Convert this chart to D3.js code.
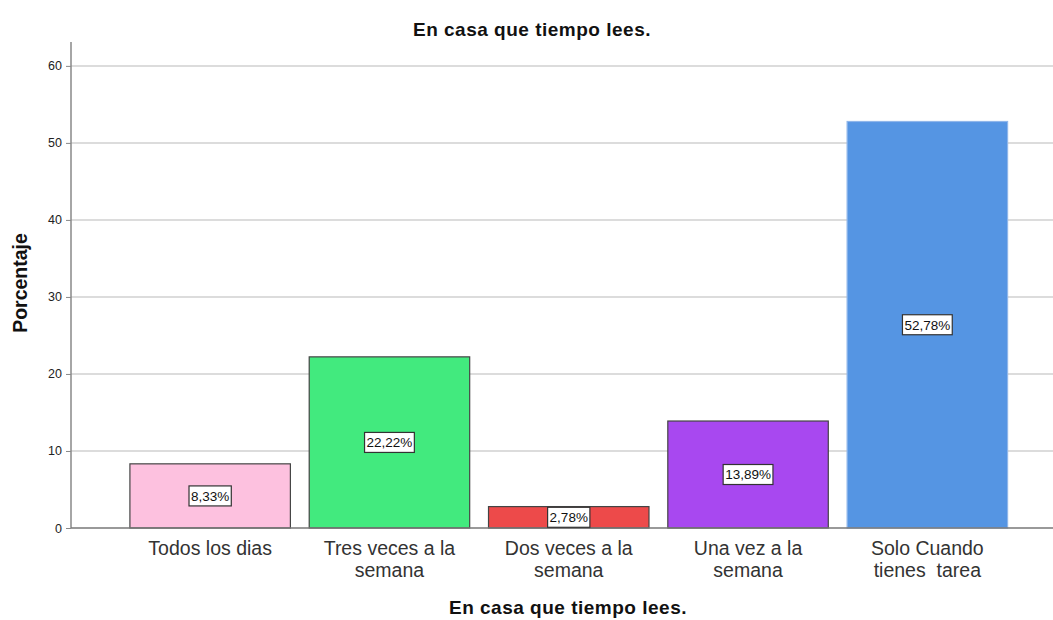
<!DOCTYPE html>
<meta charset="utf-8">
<style>
    body {
        margin: 0;
        padding: 0;
        background: #fff;
        font-family: Arial, "Liberation Sans", sans-serif;
    }
    svg {
        display: block;
    }
    .grid line {
        stroke: #d0d0d0;
        stroke-width: 1.5px;
    }
    .label-box {
        fill: #fff;
        stroke: #333;
        stroke-width: 1.2px;
    }
    .cat text {
        white-space: pre;
    }
</style>
<svg width="1053" height="620"></svg>
<script src="https://d3js.org/d3.v7.min.js"></script>
<script>
    var categories = [
        ["Todos los dias"],
        ["Tres veces a la", "semana"],
        ["Dos veces a la", "semana"],
        ["Una vez a la", "semana"],
        ["Solo Cuando", "tienes  tarea"]
    ];
    var percents = [8.33, 22.22, 2.78, 13.89, 52.78];
    var valueLabels = ["8,33%", "22,22%", "2,78%", "13,89%", "52,78%"];
    var yTicks = [0, 10, 20, 30, 40, 50, 60];
    var barColors = ["#fdc1df", "#42ea7e", "#ed4a4a", "#a848f0", "#5595e3"];
    var barStrokes = ["#444", "#444", "#444", "#444", "#8fb6ea"];

    var svg = d3.select("svg");
    var width = 1053;

    var x = d3.scaleBand()
        .domain(d3.range(categories.length))
        .range([120.5, 1017])
        .paddingInner(0.105)
        .paddingOuter(0.0525);

    var y = d3.scaleLinear()
        .domain([0, 63.1])
        .range([528, 42]);

    // gridlines
    svg.append("g")
        .attr("class", "grid")
        .selectAll("line")
        .data(yTicks.slice(1))
        .enter().append("line")
        .attr("x1", 71)
        .attr("x2", width)
        .attr("y1", function(d) { return y(d); })
        .attr("y2", function(d) { return y(d); });

    // y axis
    var yAxis = svg.append("g")
        .attr("transform", "translate(71,0)")
        .call(d3.axisLeft(y).tickValues(yTicks).tickSize(5).tickPadding(4));
    yAxis.select(".domain").remove();
    yAxis.selectAll(".tick line").attr("stroke", "#888");
    yAxis.selectAll("text")
        .attr("font-size", "12.5px")
        .attr("font-family", "Arial, 'Liberation Sans', sans-serif")
        .attr("fill", "#222");

    svg.append("line")
        .attr("x1", 71).attr("x2", 71)
        .attr("y1", y(63.1)).attr("y2", y(0))
        .attr("stroke", "#888").attr("stroke-width", 1.5);

    // bars
    svg.append("g")
        .selectAll("rect")
        .data(percents)
        .enter().append("rect")
        .attr("x", function(d, i) { return x(i); })
        .attr("y", function(d) { return y(d); })
        .attr("width", x.bandwidth())
        .attr("height", function(d) { return y(0) - y(d); })
        .attr("fill", function(d, i) { return barColors[i]; })
        .attr("stroke", function(d, i) { return barStrokes[i]; })
        .attr("stroke-width", 1.2);

    // baseline
    svg.append("line")
        .attr("x1", 71).attr("x2", width)
        .attr("y1", y(0)).attr("y2", y(0))
        .attr("stroke", "#777").attr("stroke-width", 1.5);

    // value labels
    var lab = svg.append("g")
        .selectAll("g")
        .data(percents)
        .enter().append("g")
        .attr("transform", function(d, i) {
            return "translate(" + (x(i) + x.bandwidth() / 2) + "," + y(d / 2) + ")";
        });
    lab.append("text")
        .attr("text-anchor", "middle")
        .attr("dy", "0.36em")
        .attr("font-size", "13.5px")
        .attr("fill", "#111")
        .text(function(d, i) { return valueLabels[i]; });
    lab.each(function() {
        var g = d3.select(this);
        var bb = g.select("text").node().getBBox();
        g.insert("rect", "text")
            .attr("class", "label-box")
            .attr("x", bb.x - 2)
            .attr("y", -10)
            .attr("width", bb.width + 4)
            .attr("height", 20);
    });

    // category labels
    var cat = svg.append("g")
        .attr("class", "cat")
        .selectAll("text")
        .data(categories)
        .enter().append("text")
        .attr("text-anchor", "middle")
        .attr("font-size", "19.5px")
        .attr("fill", "#333")
        .attr("x", function(d, i) { return x(i) + x.bandwidth() / 2; })
        .attr("y", 555);
    cat.selectAll("tspan")
        .data(function(d) { return d; })
        .enter().append("tspan")
        .attr("x", function() { return d3.select(this.parentNode).attr("x"); })
        .attr("dy", function(d, j) { return j === 0 ? 0 : 22; })
        .text(function(d) { return d; });

    // titles
    svg.append("text")
        .attr("x", 532).attr("y", 36)
        .attr("text-anchor", "middle")
        .attr("font-size", "19px")
        .attr("letter-spacing", "0.5px")
        .attr("font-weight", "bold")
        .attr("fill", "#111")
        .text("En casa que tiempo lees.");

    svg.append("text")
        .attr("x", 568).attr("y", 614)
        .attr("text-anchor", "middle")
        .attr("font-size", "19px")
        .attr("letter-spacing", "0.5px")
        .attr("font-weight", "bold")
        .attr("fill", "#111")
        .text("En casa que tiempo lees.");

    svg.append("text")
        .attr("transform", "translate(27,283) rotate(-90)")
        .attr("text-anchor", "middle")
        .attr("font-size", "19.5px")
        .attr("font-weight", "bold")
        .attr("fill", "#111")
        .text("Porcentaje");
</script>
